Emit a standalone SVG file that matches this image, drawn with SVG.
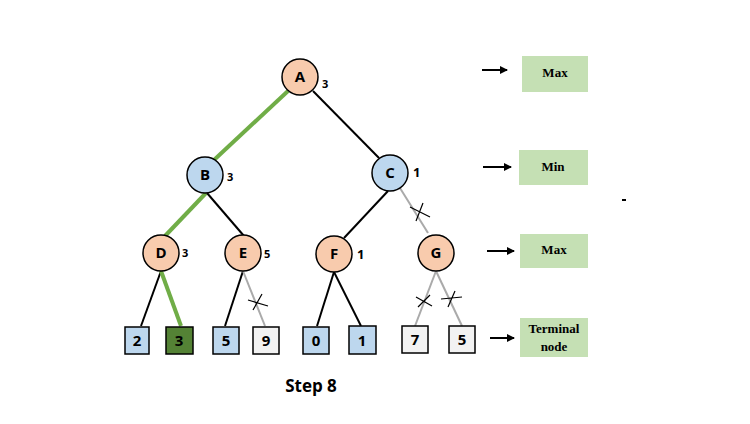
<svg xmlns="http://www.w3.org/2000/svg" width="750" height="424" viewBox="0 0 750 424">
<style>
.o{fill:#f8cbad;stroke:#000;stroke-width:1.5}
.b{fill:#bdd7ee;stroke:#000;stroke-width:1.5}
.w{fill:#f2f2f2;stroke:#000;stroke-width:1.5}
.t{font-family:"Open Sans","DejaVu Sans",sans-serif;font-weight:bold;font-size:15px;text-anchor:middle}
.s{font-family:"Open Sans","DejaVu Sans",sans-serif;font-weight:bold;font-size:11px}
.k{stroke:#000;stroke-width:2;fill:none}
.g{stroke:#70ad47;stroke-width:4;fill:none}
.y{stroke:#aaa;stroke-width:2;fill:none}
.x{stroke:#000;stroke-width:1.2;fill:none}
.lb{fill:#c5e0b4}
.lt{font-family:"Liberation Serif",serif;font-weight:bold;font-size:13px;text-anchor:middle}
</style>
<defs><marker id="ar" markerWidth="8" markerHeight="8" refX="7" refY="4" orient="auto" markerUnits="userSpaceOnUse"><path d="M0,0 L8,4 L0,8z" fill="#000"/></marker></defs>
<g id="connectors">
<line class="g" x1="288" y1="91" x2="214" y2="160"/>
<line class="k" x1="313" y1="91" x2="379" y2="158"/>
<line class="g" x1="206" y1="193" x2="165" y2="236"/>
<line class="k" x1="207" y1="193" x2="244" y2="236"/>
<line class="k" x1="388" y1="191" x2="344" y2="238"/>
<line class="y" x1="400" y1="188" x2="428" y2="233"/>
<line class="k" x1="161" y1="271" x2="141" y2="326"/>
<line class="g" x1="161" y1="271" x2="181" y2="326"/>
<line class="k" x1="243" y1="271" x2="225" y2="326"/>
<line class="y" x1="243" y1="271" x2="265" y2="326"/>
<line class="k" x1="334" y1="272" x2="317" y2="326"/>
<line class="k" x1="334" y1="272" x2="361" y2="326"/>
<line class="y" x1="436" y1="271" x2="415" y2="326"/>
<line class="y" x1="436" y1="271" x2="462" y2="326"/>
<path class="x" d="M410,207 L430,217 M416,221 L423,203"/>
<path class="x" d="M248,300 L268,306 M253,310 L262,294"/>
<path class="x" d="M416,297 L432,306 M418,307 L430,295"/>
<path class="x" d="M441,299 L462,297 M448,307 L455,291"/>
<line class="k" x1="482" y1="70" x2="507" y2="70" marker-end="url(#ar)"/>
<line class="k" x1="483" y1="167" x2="511" y2="167" marker-end="url(#ar)"/>
<line class="k" x1="487" y1="251" x2="514" y2="251" marker-end="url(#ar)"/>
<line class="k" x1="490" y1="338" x2="514" y2="338" marker-end="url(#ar)"/>
</g>
<g id="A"><circle class="o" cx="300" cy="77" r="18"/><text class="t" x="300" y="82">A</text><text class="s" x="322" y="88">3</text></g>
<g id="B"><circle class="b" cx="205" cy="175" r="18"/><text class="t" x="205" y="180">B</text><text class="s" x="227" y="181">3</text></g>
<g id="C"><circle class="b" cx="390" cy="173" r="18"/><text class="t" x="390" y="178">C</text><text class="s" x="413" y="177" style="font-size:13px">1</text></g>
<g id="D"><circle class="o" cx="161" cy="253" r="18"/><text class="t" x="161" y="258">D</text><text class="s" x="182" y="257">3</text></g>
<g id="E"><circle class="o" cx="243" cy="253" r="18"/><text class="t" x="243" y="258">E</text><text class="s" x="264" y="258">5</text></g>
<g id="F"><circle class="o" cx="334" cy="254" r="18"/><text class="t" x="334" y="259">F</text><text class="s" x="357" y="259" style="font-size:13px">1</text></g>
<g id="G"><circle class="o" cx="436" cy="253" r="18"/><text class="t" x="436" y="258">G</text></g>
<g id="L2"><rect class="b" x="125" y="327" width="24" height="27"/><text class="t" x="137" y="346">2</text></g>
<g id="L3"><rect x="166" y="327" width="27" height="27" fill="#548235" stroke="#000" stroke-width="1.5"/><text class="t" x="179" y="346">3</text></g>
<g id="L5a"><rect class="b" x="213" y="327" width="26" height="27"/><text class="t" x="226" y="346">5</text></g>
<g id="L9"><rect class="w" x="253" y="327" width="26" height="27"/><text class="t" x="266" y="346">9</text></g>
<g id="L0"><rect class="b" x="303" y="327" width="26" height="27"/><text class="t" x="316" y="346">0</text></g>
<g id="L1"><rect class="b" x="349" y="326" width="27" height="28"/><text class="t" x="362" y="346">1</text></g>
<g id="L7"><rect class="w" x="402" y="326" width="26" height="27"/><text class="t" x="415" y="345">7</text></g>
<g id="L5b"><rect class="w" x="449" y="326" width="26" height="27"/><text class="t" x="462" y="345">5</text></g>
<g id="lMax1"><rect class="lb" x="522" y="56" width="66" height="36"/><text class="lt" x="555" y="77">Max</text></g>
<g id="lMin"><rect class="lb" x="519" y="150" width="69" height="35"/><text class="lt" x="553" y="171">Min</text></g>
<g id="lMax2"><rect class="lb" x="520" y="234" width="68" height="34"/><text class="lt" x="554" y="254">Max</text></g>
<g id="lTerm"><rect class="lb" x="520" y="318" width="68" height="39"/><text class="lt" x="554" y="333">Terminal</text><text class="lt" x="554" y="351">node</text></g>
<rect x="622" y="199" width="4" height="2" fill="#000"/>
<text x="311" y="392" style="font-family:'Open Sans','DejaVu Sans',sans-serif;font-weight:bold;font-size:17px;text-anchor:middle">Step 8</text>
</svg>
